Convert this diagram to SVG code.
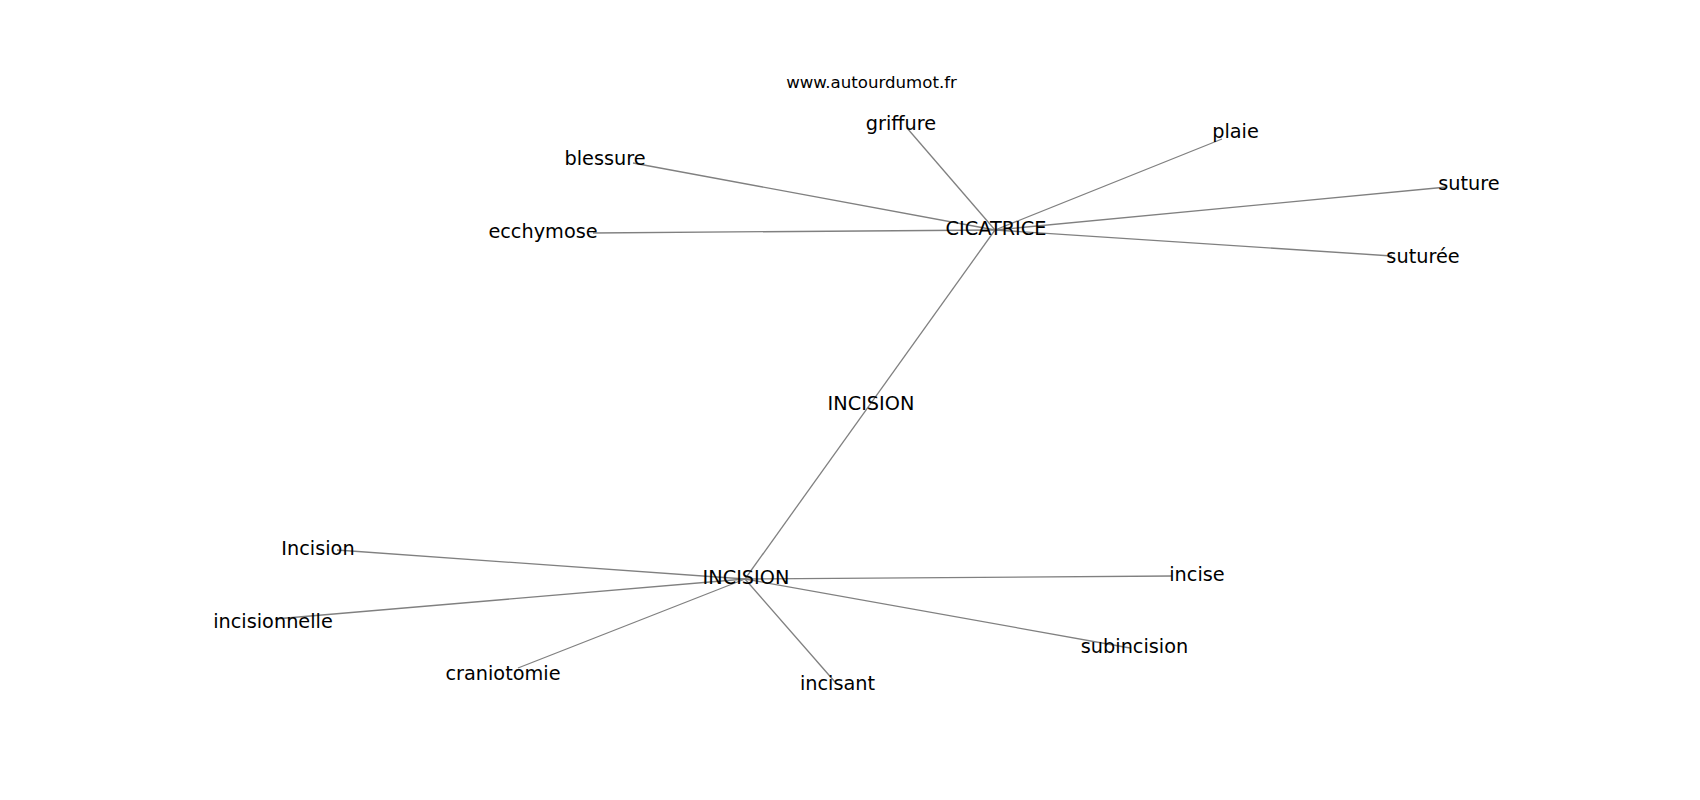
<svg xmlns="http://www.w3.org/2000/svg" width="1700" height="800" viewBox="0 0 1700 800">
<style>
.e{stroke:#808080;stroke-width:1.3;fill:none}
.t{font-family:"DejaVu Sans",sans-serif;font-size:19.3px;fill:#000;text-anchor:middle}
.u{font-family:"DejaVu Sans",sans-serif;font-size:16.6px;fill:#000;text-anchor:middle}
</style>
<rect width="1700" height="800" fill="#fff"/>
<g id="connectors">
<line class="e" x1="995" y1="230" x2="907" y2="128"/>
<line class="e" x1="995" y1="230" x2="633" y2="163"/>
<line class="e" x1="995" y1="230" x2="593" y2="233"/>
<line class="e" x1="995" y1="230" x2="1222" y2="139"/>
<line class="e" x1="995" y1="230" x2="1447" y2="187"/>
<line class="e" x1="995" y1="230" x2="1392" y2="256"/>
<line class="e" x1="995" y1="230" x2="745" y2="579"/>
<line class="e" x1="745" y1="579" x2="337" y2="550"/>
<line class="e" x1="745" y1="579" x2="275" y2="619"/>
<line class="e" x1="745" y1="579" x2="518" y2="668"/>
<line class="e" x1="745" y1="579" x2="835" y2="682"/>
<line class="e" x1="745" y1="579" x2="1172" y2="576"/>
<line class="e" x1="745" y1="579" x2="1130" y2="648"/>
</g>
<text class="u" x="871.5" y="87.5">www.autourdumot.fr</text>
<g id="n-cicatrice"><text class="t" x="996" y="234.5">CICATRICE</text></g>
<g id="n-griffure"><text class="t" x="901" y="129.5">griffure</text></g>
<g id="n-blessure"><text class="t" x="605" y="164.5">blessure</text></g>
<g id="n-ecchymose"><text class="t" x="543" y="237.5">ecchymose</text></g>
<g id="n-plaie"><text class="t" x="1235.5" y="137.5">plaie</text></g>
<g id="n-suture"><text class="t" x="1469" y="189.5">suture</text></g>
<g id="n-suturee"><text class="t" x="1423" y="262.5">suturée</text></g>
<g id="n-incision-mid"><text class="t" x="871" y="409.5">INCISION</text></g>
<g id="n-incision"><text class="t" x="746" y="583.5">INCISION</text></g>
<g id="n-incision2"><text class="t" x="318" y="554.5">Incision</text></g>
<g id="n-incisionnelle"><text class="t" x="273" y="627.5">incisionnelle</text></g>
<g id="n-craniotomie"><text class="t" x="503" y="679.5">craniotomie</text></g>
<g id="n-incisant"><text class="t" x="837.5" y="689.5">incisant</text></g>
<g id="n-incise"><text class="t" x="1197" y="580.5">incise</text></g>
<g id="n-subincision"><text class="t" x="1134.5" y="652.5">subincision</text></g>
</svg>
